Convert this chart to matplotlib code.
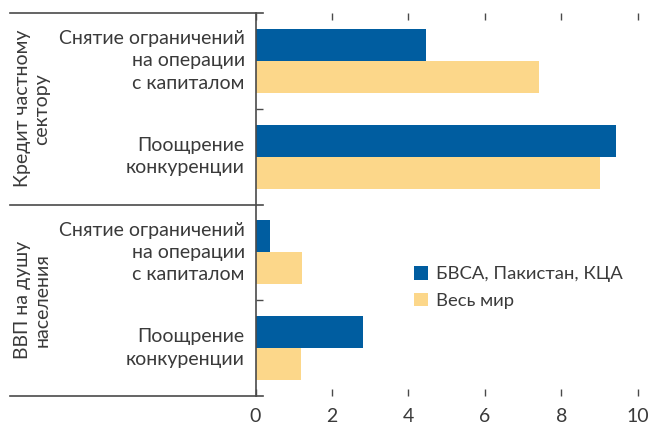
import matplotlib.pyplot as plt
import numpy as np

plt.rcParams['font.family'] = ['Lato', 'DejaVu Sans']

# Данные
groups = ['Кредит частному\nсектору', 'ВВП на душу\nнаселения']
measures = ['Снятие ограничений\nна операции\nс капиталом', 'Поощрение\nконкуренции']
series_names = ['БВСА, Пакистан, КЦА', 'Весь мир']
bvsa = [4.46, 9.44, 0.38, 2.81]
world = [7.42, 9.02, 1.22, 1.19]
x_ticks = [0, 2, 4, 6, 8, 10]

blue = '#005DA0'
yellow = '#FCD78A'
text_color = '#3a3a3a'
line_color = '#4a4a4a'

fig = plt.figure(figsize=(6.56, 4.25), dpi=100)
ax = fig.add_axes([255.5 / 656, 1 - 396 / 425, (637.7 - 255.5) / 656, (396 - 13) / 425])

labels = measures * len(groups)
pos = np.arange(len(labels))
h = 0.334
ax.barh(pos - h / 2, bvsa, height=h, color=blue, label=series_names[0])
ax.barh(pos + h / 2, world, height=h, color=yellow, label=series_names[1])

ax.set_xlim(0, 10)
ax.set_ylim(len(labels) - 0.5, -0.5)

for s in ['top', 'right', 'bottom']:
    ax.spines[s].set_visible(False)
ax.spines['left'].set_color(line_color)
ax.spines['left'].set_linewidth(1.2)

ax.set_xticks(x_ticks)
ax.tick_params(axis='x', direction='in', length=5, width=1, color=line_color,
               top=True, bottom=True, labelsize=14, labelcolor=text_color, pad=9)
ax.set_yticks([0.5, 2.5])
ax.set_yticklabels([])
ax.tick_params(axis='y', direction='in', length=5, width=1, color=line_color)

# подписи показателей
ytr = ax.get_yaxis_transform()
for p, lab in zip(pos, labels):
    ax.text(-0.028, p, lab, transform=ytr, ha='right', va='center',
            fontsize=14, color=text_color, linespacing=1.38)

# разделители групп
for yb in [-0.5, 1.5, 3.5]:
    ax.plot([-0.642, 0.0196], [yb, yb], transform=ytr, color=line_color,
            lw=1.2, clip_on=False)

# названия групп
for g, lab in enumerate(groups):
    ax.text(-0.585, g * 2 + 0.5, lab, transform=ytr, rotation=90,
            ha='center', va='center', multialignment='center',
            fontsize=14, color=text_color, linespacing=1.2)

leg = ax.legend(loc='center left', bbox_to_anchor=(414 / 656, 1 - 287.5 / 425),
                bbox_transform=fig.transFigure, frameon=False, fontsize=13.3,
                handlelength=0.75, handleheight=0.75, handletextpad=0.45,
                labelspacing=0.55, borderpad=0, borderaxespad=0)
for t in leg.get_texts():
    t.set_color(text_color)

fig.savefig('out.png', dpi=100)
